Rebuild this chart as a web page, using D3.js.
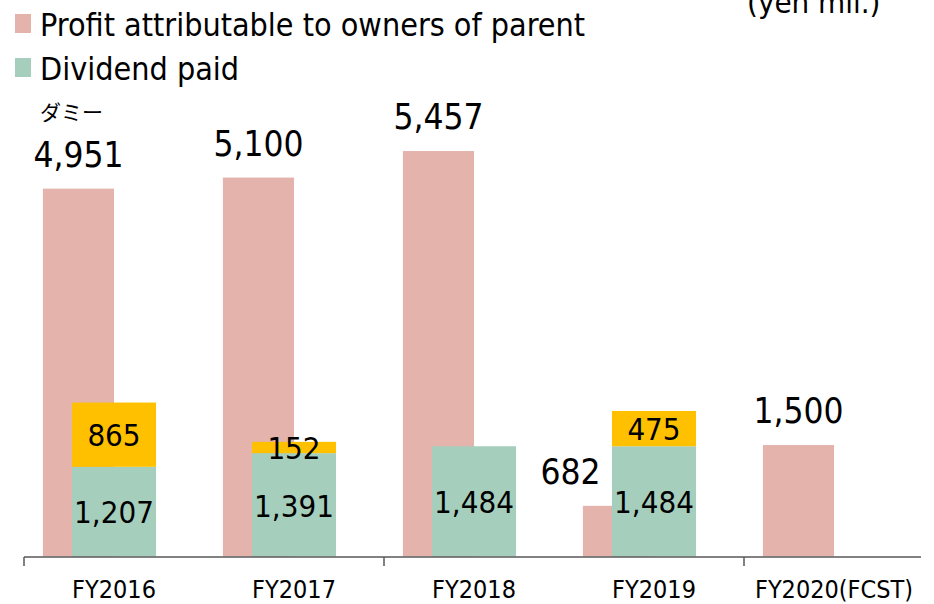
<!DOCTYPE html>
<html>
<head>
<meta charset="utf-8">
<script src="https://cdn.jsdelivr.net/npm/d3@7"></script>
<style>
  body { margin: 0; background: #fff; }
  svg text { font-family: "DejaVu Sans Condensed", "DejaVu Sans", sans-serif; fill: #000; }
</style>
</head>
<body>
<svg id="chart" width="934" height="604"></svg>
<script>
// --- data ---
const categories = ["FY2016", "FY2017", "FY2018", "FY2019", "FY2020(FCST)"];
const profit = [4951, 5100, 5457, 682, 1500];
const dividend = [1207, 1391, 1484, 1484, null];
const extra = [865, 152, null, 475, null];
const legendLabels = ["Profit attributable to owners of parent", "Dividend paid"];

const colors = { profit: "#e3b3ac", dividend: "#a6cebd", extra: "#ffc000" };
const fmt = d3.format(",");

const svg = d3.select("#chart");

// scales
const x = d3.scaleBand().domain(categories).range([24, 924]).padding(0);
const y = d3.scaleLinear().domain([0, 7000]).range([556.5, 36.4]);
const bw = x.bandwidth();
const mid = (c) => x(c) + bw / 2;

// profit bars (left, behind)
const pW = bw * 0.395;
svg.append("g")
  .selectAll("rect")
  .data(categories)
  .join("rect")
  .attr("x", (c) => mid(c) - pW)
  .attr("width", pW)
  .attr("y", (c, i) => y(profit[i]))
  .attr("height", (c, i) => y(0) - y(profit[i]))
  .attr("fill", colors.profit);

// dividend + extra stack (centered)
const sW = bw * 0.467;
const stack = svg.append("g");
categories.forEach((c, i) => {
  if (dividend[i] == null) return;
  const d0 = dividend[i];
  stack.append("rect")
    .attr("x", mid(c) - sW / 2).attr("width", sW)
    .attr("y", y(d0)).attr("height", y(0) - y(d0))
    .attr("fill", colors.dividend);
  stack.append("text")
    .attr("x", mid(c)).attr("y", (y(0) + y(d0)) / 2)
    .attr("dy", "0.38em").attr("text-anchor", "middle")
    .attr("font-size", 31).text(fmt(d0));
  if (extra[i] == null) return;
  const e = extra[i];
  stack.append("rect")
    .attr("x", mid(c) - sW / 2).attr("width", sW)
    .attr("y", y(d0 + e)).attr("height", y(d0) - y(d0 + e))
    .attr("fill", colors.extra);
  stack.append("text")
    .attr("x", mid(c)).attr("y", (y(d0) + y(d0 + e)) / 2)
    .attr("dy", "0.38em").attr("text-anchor", "middle")
    .attr("font-size", 31).text(fmt(e));
});

// labels above profit bars (FY2019 label pushed left, out of the stack's way)
const labelShift = { FY2019: -48 };
svg.append("g")
  .selectAll("text")
  .data(categories)
  .join("text")
  .attr("x", (c) => mid(c) - pW / 2 + (labelShift[c] || 0))
  .attr("y", (c, i) => y(profit[i]) - 22)
  .attr("text-anchor", "middle")
  .attr("font-size", 35)
  .text((c, i) => fmt(profit[i]));

// axis
const axisG = svg.append("g").attr("transform", "translate(0,557)");
axisG.append("line")
  .attr("x1", 24).attr("x2", 921).attr("y1", 0).attr("y2", 0)
  .attr("stroke", "#595959").attr("stroke-width", 1.5);
axisG.selectAll(".tick")
  .data(categories.filter((c, i) => i % 2 === 0))
  .join("line")
  .attr("x1", (c) => x(c)).attr("x2", (c) => x(c))
  .attr("y1", 0).attr("y2", 9)
  .attr("stroke", "#595959").attr("stroke-width", 1.5);
axisG.selectAll("text")
  .data(categories)
  .join("text")
  .attr("x", (c) => mid(c)).attr("y", 41)
  .attr("text-anchor", "middle")
  .attr("font-size", 25)
  .text((c) => c);

// legend
const legendColors = [colors.profit, colors.dividend];
const lg = svg.append("g");
legendLabels.forEach((t, i) => {
  lg.append("rect")
    .attr("x", 15).attr("y", 14 + i * 44)
    .attr("width", 16).attr("height", 19)
    .attr("fill", legendColors[i]);
  lg.append("text")
    .attr("x", 40).attr("y", 36 + i * 44)
    .attr("font-size", 32)
    .text(t);
});

// dummy label and unit
svg.append("text")
  .attr("x", 40).attr("y", 120)
  .attr("font-size", 21)
  .style("font-family", "'Noto Sans CJK JP', sans-serif")
  .text("ダミー");

svg.append("text")
  .attr("x", 747).attr("y", 13)
  .attr("font-size", 31)
  .text("(yen mil.)");
</script>
</body>
</html>
